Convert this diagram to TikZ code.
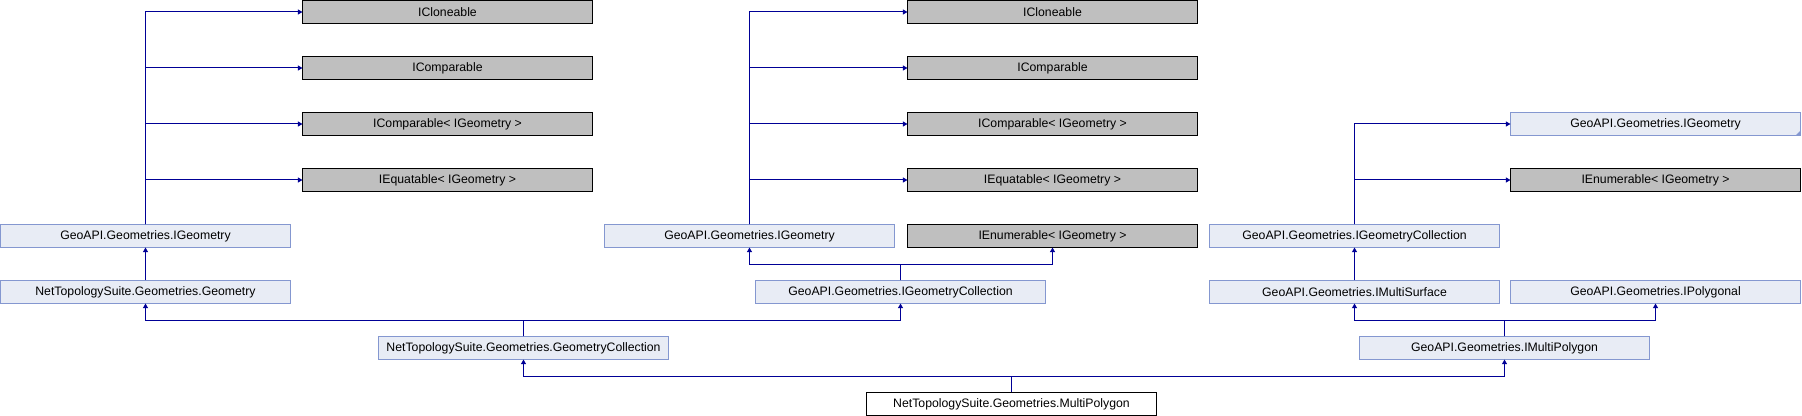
\documentclass[tikz,border=0pt]{standalone}
\usepackage{fontspec}
\setmainfont{Liberation Sans}
\usepackage{tikz}
\usetikzlibrary{arrows.meta}

\definecolor{linkblue}{RGB}{0,0,150}
\definecolor{docfill}{RGB}{232,236,245}
\definecolor{docline}{RGB}{132,151,208}
\definecolor{extfill}{RGB}{191,191,191}

\begin{document}
\begin{tikzpicture}[x=0.75pt,y=0.75pt,yscale=-1,xscale=1,
    box/.style={rectangle, anchor=north west, inner sep=0pt, outer sep=0pt,
        minimum width=217.5pt, minimum height=17.25pt, line width=0.75pt,
        font=\fontsize{9.2}{11}\selectfont},
    docbox/.style={box, draw=docline, fill=docfill},
    extbox/.style={box, draw=black, fill=extfill},
    selfbox/.style={box, draw=black, fill=white},
    inh/.style={draw=linkblue, line width=0.75pt, -{Triangle[length=3.5pt,width=3.75pt]}}]
    \useasboundingbox (0,0) rectangle (1802,416);

    % Left column
    \node [docbox] (geomA) at (0.5,224.5) {GeoAPI.Geometries.IGeometry};
    \node [docbox] (ntsGeom) at (0.5,280.5) {NetTopologySuite.Geometries.Geometry};
    \node [extbox] (clonA) at (302.5,0.5) {ICloneable};
    \node [extbox] (compA) at (302.5,56.5) {IComparable};
    \node [extbox] (compGA) at (302.5,112.5) {IComparable< IGeometry >};
    \node [extbox] (equA) at (302.5,168.5) {IEquatable< IGeometry >};
    \node [docbox] (ntsColl) at (378.5,336.5) {NetTopologySuite.Geometries.GeometryCollection};

    % Middle column
    \node [docbox] (geomB) at (604.5,224.5) {GeoAPI.Geometries.IGeometry};
    \node [docbox] (collB) at (755.5,280.5) {GeoAPI.Geometries.IGeometryCollection};
    \node [selfbox] (multiPoly) at (866.5,392.5) {NetTopologySuite.Geometries.MultiPolygon};
    \node [extbox] (clonB) at (907.5,0.5) {ICloneable};
    \node [extbox] (compB) at (907.5,56.5) {IComparable};
    \node [extbox] (compGB) at (907.5,112.5) {IComparable< IGeometry >};
    \node [extbox] (equB) at (907.5,168.5) {IEquatable< IGeometry >};
    \node [extbox] (enumB) at (907.5,224.5) {IEnumerable< IGeometry >};

    % Right column
    \node [docbox] (collC) at (1209.5,224.5) {GeoAPI.Geometries.IGeometryCollection};
    \node [docbox] (multiSurf) at (1209.5,280.5) {GeoAPI.Geometries.IMultiSurface};
    \node [docbox] (iMultiPoly) at (1359.5,336.5) {GeoAPI.Geometries.IMultiPolygon};
    \node [docbox] (geomC) at (1510.5,112.5) {GeoAPI.Geometries.IGeometry};
    \node [extbox] (enumC) at (1510.5,168.5) {IEnumerable< IGeometry >};
    \node [docbox] (polygonal) at (1510.5,280.5) {GeoAPI.Geometries.IPolygonal};
    % truncated mark
    \fill [docline] (geomC.south east) -- ++(-5,0) -- ++(5,-5) -- cycle;

    % Inheritance lines
    \foreach \base in {clonA,compA,compGA,equA}
        \draw [inh] (geomA.north) |- (\base.west);
    \draw [inh] (ntsGeom.north) -- (geomA.south);
    \draw [inh] (ntsColl.north) -- ++(0,-16) -| (ntsGeom.south);
    \draw [inh] (ntsColl.north) -- ++(0,-16) -| (collB.south);
    \draw [inh] (collB.north) -- ++(0,-16) -| (geomB.south);
    \draw [inh] (collB.north) -- ++(0,-16) -| (enumB.south);
    \foreach \base in {clonB,compB,compGB,equB}
        \draw [inh] (geomB.north) |- (\base.west);
    \draw [inh] (multiPoly.north) -- ++(0,-16) -| (ntsColl.south);
    \draw [inh] (multiPoly.north) -- ++(0,-16) -| (iMultiPoly.south);
    \draw [inh] (iMultiPoly.north) -- ++(0,-16) -| (multiSurf.south);
    \draw [inh] (iMultiPoly.north) -- ++(0,-16) -| (polygonal.south);
    \draw [inh] (multiSurf.north) -- (collC.south);
    \foreach \base in {geomC,enumC}
        \draw [inh] (collC.north) |- (\base.west);

\end{tikzpicture}
\end{document}
